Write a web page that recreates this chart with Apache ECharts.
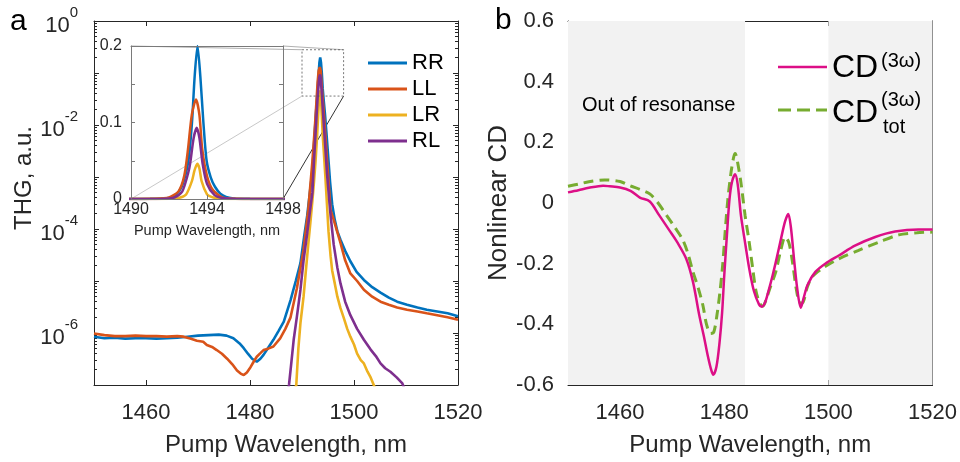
<!DOCTYPE html>
<html><head><meta charset="utf-8">
<script src="https://cdn.jsdelivr.net/npm/echarts@6/dist/echarts.min.js"></script>
<style>html,body{margin:0;padding:0;background:#fff}#c{width:960px;height:462px}</style>
</head><body><div id="c"></div>
<script>
// ---------- Panel a : THG spectra (log scale) ----------
const wlRR = [1450,1452,1454,1456,1458,1460,1462,1464,1466,1468,1470,1472,1474,1475.5,1476.8,1478,1478.8,1479.6,1480.4,1481.3,1482,1482.6,1483.5,1484.5,1485.5,1486.5,1487.8,1488.8,1489.7,1490.4,1491,1491.6,1492,1492.3,1492.67,1493.02,1493.21,1493.35,1493.5,1493.65,1493.81,1493.98,1494.2,1494.42,1494.7,1495,1495.4,1495.8,1496.3,1496.8,1497.4,1498.3,1499.3,1500.5,1501.9,1503.5,1505.1,1506.7,1508.3,1510.2,1512.2,1514,1516,1518,1520];
const thgRR = [8.5e-7,7.9e-7,8.1e-7,7.8e-7,7.9e-7,7.9e-7,7.8e-7,7.9e-7,8.1e-7,8.5e-7,8.9e-7,9.1e-7,9.3e-7,8.9e-7,7.9e-7,6.3e-7,5.1e-7,4.0e-7,3.2e-7,2.8e-7,3.2e-7,3.8e-7,5.2e-7,7.4e-7,1.1e-6,1.65e-6,4.3e-6,1.0e-5,2.2e-5,7e-5,1.8e-4,6e-4,1.3e-3,4e-3,0.016,0.05,0.1,0.16,0.2,0.16,0.1,0.05,0.028,0.016,0.007,0.0028,8e-4,3e-4,1.5e-4,9e-5,6.2e-5,3.8e-5,2.4e-5,1.5e-5,1.05e-5,7.6e-6,6.0e-6,4.8e-6,4.0e-6,3.5e-6,3.1e-6,2.8e-6,2.6e-6,2.4e-6,2.1e-6];

const wlLL = [1450,1452,1454,1456,1458,1460,1462,1464,1466,1467.2,1468.5,1469.8,1471,1471.7,1472.7,1473.6,1474.6,1475.6,1476.6,1477.5,1478.2,1478.8,1479.4,1480.1,1480.7,1481.3,1482,1482.6,1483.5,1484.5,1485.8,1486.8,1487.8,1489,1490.3,1491.2,1492,1492.5,1492.8,1493,1493.2,1493.42,1493.6,1493.75,1494,1494.3,1494.8,1495.5,1496.1,1497.4,1498.3,1499.3,1500.6,1501.9,1503.5,1505.1,1506.7,1508.3,1510.2,1512.2,1514,1516,1518,1520];
const thgLL = [9.8e-7,9.1e-7,8.7e-7,8.7e-7,8.9e-7,8.7e-7,8.7e-7,8.5e-7,8.7e-7,8.5e-7,7.8e-7,7.1e-7,6.8e-7,5.9e-7,5.4e-7,4.7e-7,4.0e-7,3.2e-7,2.5e-7,1.9e-7,1.66e-7,1.55e-7,1.74e-7,2.2e-7,2.8e-7,3.5e-7,4.1e-7,4.7e-7,5.0e-7,5.5e-7,7.9e-7,1.2e-6,2.0e-6,7.1e-6,4.0e-5,2.3e-4,2.0e-3,0.01,0.03,0.065,0.11,0.13,0.11,0.065,0.03,0.012,0.0022,2.3e-4,1.5e-4,5.4e-5,2.5e-5,1.4e-5,1.0e-5,6.8e-6,5.0e-6,4.0e-6,3.5e-6,3.1e-6,2.8e-6,2.6e-6,2.4e-6,2.2e-6,2.0e-6,1.8e-6];

const wlLR = [1488.6,1488.9,1489.3,1489.7,1490.3,1490.7,1491.2,1491.6,1492,1492.3,1492.6,1492.9,1493.2,1493.35,1493.49,1493.6,1493.72,1494,1494.2,1494.5,1494.8,1495.1,1495.5,1495.8,1496.3,1496.8,1497.4,1498,1498.7,1499.3,1500,1500.6,1501.3,1501.9,1502.6,1503.2,1503.8,1504.2];
const thgLR = [8e-8,1e-7,5e-7,1.55e-6,5e-6,1.4e-5,5e-5,1.3e-4,3.5e-4,8e-4,0.002,0.006,0.023,0.038,0.046,0.04,0.023,0.006,0.003,1e-3,3e-4,9e-5,3e-5,1.6e-5,9e-6,5e-6,3e-6,2e-6,1.2e-6,8.5e-7,6e-7,4e-7,3e-7,2.6e-7,1.8e-7,1.4e-7,1e-7,8e-8];

const wlRL = [1487.3,1487.5,1488,1488.4,1489,1489.7,1490.3,1491,1491.6,1492,1492.3,1492.7,1493,1493.11,1493.3,1493.46,1493.6,1493.77,1494,1494.4,1494.8,1495.2,1495.5,1496.1,1496.8,1497.4,1498.3,1499.3,1500.6,1501.9,1503.2,1504.2,1505.1,1506,1507,1508.2,1509.3,1509.8];
const thgRL = [8e-8,1e-7,3e-7,7.4e-7,2e-6,6.8e-6,2.5e-5,8.3e-5,2.5e-4,5e-4,0.002,0.01,0.033,0.046,0.08,0.093,0.08,0.046,0.02,0.005,0.0012,4e-4,1.8e-4,5e-5,1.8e-5,9e-6,4e-6,2.2e-6,1.2e-6,7.4e-7,4.8e-7,3.6e-7,2.6e-7,2.1e-7,1.8e-7,1.4e-7,1.07e-7,8e-8];

const seriesNamesA = ['RR','LL','LR','RL'];
const xTicksA = [1460,1480,1500,1520];
const yLabelsA = [1,1e-2,1e-4,1e-6];
const yTicksA = [1,1e-1,1e-2,1e-3,1e-4,1e-5,1e-6,1e-7];
const minorMultipliers = [2,3,4,5,6,7,8,9];
const insetXTicks = [1490,1494,1498];
const insetYLabels = [0,0.1,0.2];
const insetYTicks = [0,0.05,0.1,0.15,0.2];
const zoomBoxX = [1490,1498];
const zoomBoxY = [0.036,0.28];

// ---------- Panel b : nonlinear CD ----------
const cdWl = [1450,1452,1454,1456.75,1458,1460,1462,1463.8,1465.7,1467.5,1469.5,1471,1472.7,1474,1475.2,1476.1,1476.8,1477.5,1477.9,1478.5,1479.1,1479.6,1480,1480.5,1481,1481.5,1482.1,1482.6,1483.2,1484,1484.8,1485.7,1486.7,1487.2,1487.8,1488.5,1489.3,1490.1,1490.9,1491.7,1492.3,1492.8,1493.4,1494,1494.7,1495.3,1496,1497.5,1499.4,1502,1505.2,1509,1512.8,1517.3,1520];
const cdVal = [0.035,0.042,0.05,0.057,0.055,0.051,0.04,0.018,0.005,-0.04,-0.091,-0.13,-0.184,-0.26,-0.369,-0.44,-0.5,-0.55,-0.566,-0.54,-0.46,-0.36,-0.24,-0.11,0.01,0.07,0.095,0.06,-0.04,-0.13,-0.216,-0.29,-0.335,-0.342,-0.33,-0.29,-0.238,-0.18,-0.118,-0.06,-0.036,-0.08,-0.184,-0.28,-0.345,-0.31,-0.27,-0.227,-0.2,-0.173,-0.14,-0.112,-0.094,-0.087,-0.087];
const cdTotWl = [1450,1452,1454,1457,1460,1461.9,1463.8,1465.7,1467.3,1468.9,1470.5,1472,1473,1474,1475,1475.9,1476.6,1477.4,1478,1478.6,1479.2,1479.7,1480.2,1480.7,1481.3,1481.8,1482.1,1482.5,1483.2,1484,1484.8,1485.5,1486.1,1486.8,1487.4,1488.2,1489,1489.9,1490.8,1491.7,1492.4,1493.1,1493.8,1494.4,1495,1495.9,1496.9,1498.8,1502,1505.8,1509.7,1513.5,1517,1520];
const cdTotVal = [0.055,0.062,0.07,0.076,0.071,0.057,0.045,0.03,0,-0.04,-0.08,-0.12,-0.165,-0.227,-0.28,-0.337,-0.4,-0.43,-0.425,-0.37,-0.29,-0.205,-0.09,0.013,0.1,0.15,0.163,0.14,0.068,-0.04,-0.13,-0.22,-0.29,-0.33,-0.34,-0.31,-0.27,-0.227,-0.16,-0.112,-0.13,-0.194,-0.28,-0.326,-0.33,-0.28,-0.243,-0.216,-0.184,-0.156,-0.129,-0.105,-0.098,-0.096];
const xTicksB = [1460,1480,1500,1520];
const shadedRanges = [[1450,1484],[1500,1520]];

// ---------- styling ----------
const FONT = "'Liberation Sans', Arial, Helvetica, sans-serif";
const TXT = '#262626';
const AX = '#262626';
const INSET_AX = '#7a7a7a';
const COLORS_A = {RR:'#0072BD', LL:'#D95319', LR:'#EDB120', RL:'#7E2F8E'};
const COLOR_CD = '#DC0F86';
const COLOR_TOT = '#77AC30';
const plain = v => String(v);

function zip(xs, ys){ const n = Math.min(xs.length, ys.length); const o=[]; for(let i=0;i<n;i++) o.push([xs[i], ys[i]]); return o; }
const dataA = {RR: zip(wlRR,thgRR), LL: zip(wlLL,thgLL), LR: zip(wlLR,thgLR), RL: zip(wlRL,thgRL)};
const yMinorA = [];
yTicksA.slice(1).forEach(d => minorMultipliers.forEach(m => yMinorA.push(m*d)));

const chart = echarts.init(document.getElementById('c'), null, {renderer:'canvas'});

function mirrorX(grid, min, max, ticks, color, showTicks, z){
  return {type:'value', gridIndex:grid, position:'top', min, max, z:z||0,
    axisLine:{show:true,onZero:false,lineStyle:{color,width:1}},
    axisTick:{show:showTicks,inside:true,length:5,customValues:ticks,lineStyle:{color}},
    axisLabel:{show:false}, splitLine:{show:false}};
}

const xAxis = [
  {type:'value', gridIndex:0, position:'bottom', min:1450, max:1520,
   axisLine:{show:true,onZero:false,lineStyle:{color:AX,width:1}},
   axisTick:{inside:true,length:5,customValues:xTicksA,lineStyle:{color:AX}},
   axisLabel:{customValues:xTicksA,formatter:plain,margin:17,fontSize:22,color:TXT,fontFamily:FONT},
   splitLine:{show:false},
   name:'Pump Wavelength, nm', nameLocation:'middle', nameGap:48,
   nameTextStyle:{fontSize:24,color:TXT,fontFamily:FONT,padding:[0,0,0,20]}},
  mirrorX(0,1450,1520,xTicksA,AX,true),
  {type:'value', gridIndex:1, position:'bottom', min:1490, max:1498, z:5,
   axisLine:{show:true,onZero:false,lineStyle:{color:INSET_AX,width:1}},
   axisTick:{inside:true,length:4,customValues:insetXTicks,lineStyle:{color:INSET_AX}},
   axisLabel:{customValues:insetXTicks,formatter:plain,margin:3,fontSize:16,color:TXT,fontFamily:FONT},
   splitLine:{show:false},
   name:'Pump Wavelength, nm', nameLocation:'middle', nameGap:24,
   nameTextStyle:{fontSize:14.5,color:TXT,fontFamily:FONT}},
  mirrorX(1,1490,1498,insetXTicks,INSET_AX,false,5),
  {type:'value', gridIndex:2, position:'bottom', min:1450, max:1520,
   axisLine:{show:true,onZero:false,lineStyle:{color:AX,width:1}},
   axisTick:{inside:true,length:5,customValues:xTicksB,lineStyle:{color:AX}},
   axisLabel:{customValues:xTicksB,formatter:plain,margin:17,fontSize:22,color:TXT,fontFamily:FONT},
   splitLine:{show:false},
   name:'Pump Wavelength, nm', nameLocation:'middle', nameGap:48,
   nameTextStyle:{fontSize:24,color:TXT,fontFamily:FONT}},
  mirrorX(2,1450,1520,xTicksB,AX,true)
];

const logLabel = v => {
  const e = Math.round(Math.log10(v));
  return '{b|10}{s|' + (e === 0 ? '0' : '-' + Math.abs(e)) + '}';
};
function minorLog(position){
  return {type:'log', logBase:10, gridIndex:0, position, min:1e-7, max:1,
    axisLine:{show:false},
    axisTick:{inside:true,length:3,customValues:yMinorA,lineStyle:{color:AX}},
    axisLabel:{show:false}, splitLine:{show:false}};
}

const yAxis = [
  {type:'log', logBase:10, gridIndex:0, position:'left', min:1e-7, max:1,
   axisLine:{show:true,onZero:false,lineStyle:{color:AX,width:1}},
   axisTick:{inside:true,length:5,customValues:yTicksA,lineStyle:{color:AX}},
   axisLabel:{customValues:yLabelsA,margin:16,formatter:logLabel,color:TXT,fontFamily:FONT,
     rich:{b:{fontSize:22,color:TXT,fontFamily:FONT,padding:[10,0,0,0],verticalAlign:'bottom'},
           s:{fontSize:15,color:TXT,fontFamily:FONT,verticalAlign:'top'}}},
   splitLine:{show:false},
   name:'THG, a.u.', nameLocation:'middle', nameGap:57,
   nameTextStyle:{fontSize:24,color:TXT,fontFamily:FONT,padding:[0,0,0,50]}},
  {type:'log', logBase:10, gridIndex:0, position:'right', min:1e-7, max:1,
   axisLine:{show:true,onZero:false,lineStyle:{color:AX,width:1}},
   axisTick:{inside:true,length:5,customValues:yTicksA,lineStyle:{color:AX}},
   axisLabel:{show:false}, splitLine:{show:false}},
  {type:'value', gridIndex:1, position:'left', min:0, max:0.2, z:5,
   axisLine:{show:true,onZero:false,lineStyle:{color:INSET_AX,width:1}},
   axisTick:{inside:true,length:4,customValues:insetYTicks,lineStyle:{color:INSET_AX}},
   axisLabel:{customValues:insetYLabels,margin:9,fontSize:16,color:TXT,fontFamily:FONT,
     formatter:v=>String(Math.round(v*10)/10)},
   splitLine:{show:false}},
  {type:'value', gridIndex:1, position:'right', min:0, max:0.2, z:5,
   axisLine:{show:true,onZero:false,lineStyle:{color:INSET_AX,width:1}},
   axisTick:{inside:true,length:4,customValues:insetYTicks,lineStyle:{color:INSET_AX}},
   axisLabel:{show:false}, splitLine:{show:false}},
  {type:'value', gridIndex:2, position:'left', min:-0.6, max:0.6, interval:0.2,
   axisLine:{show:true,onZero:false,lineStyle:{color:AX,width:1}},
   axisTick:{inside:true,length:5,lineStyle:{color:AX}},
   axisLabel:{margin:14,fontSize:22,color:TXT,fontFamily:FONT,
     formatter:v=>Math.abs(v)<1e-9?'0':v.toFixed(1)},
   splitLine:{show:false},
   name:'Nonlinear CD', nameLocation:'middle', nameGap:50,
   nameTextStyle:{fontSize:26,color:TXT,fontFamily:FONT}},
  {type:'value', gridIndex:2, position:'right', min:-0.6, max:0.6, interval:0.2,
   axisLine:{show:true,onZero:false,lineStyle:{color:AX,width:1}},
   axisTick:{inside:true,length:5,lineStyle:{color:AX}},
   axisLabel:{show:false}, splitLine:{show:false}},
  minorLog('left'),
  minorLog('right')
];

const series = [];
seriesNamesA.forEach(n => {
  series.push({name:n, type:'line', xAxisIndex:0, yAxisIndex:0, data:dataA[n], symbol:'none',
    clip:true, lineStyle:{color:COLORS_A[n], width:2.6}, itemStyle:{color:COLORS_A[n]}, z:3});
});
seriesNamesA.forEach(n => {
  series.push({name:n, type:'line', xAxisIndex:2, yAxisIndex:2, data:dataA[n], symbol:'none',
    smooth:0.25, clip:true, lineStyle:{color:COLORS_A[n], width:2.5}, itemStyle:{color:COLORS_A[n]}, z:4});
});
series.push({name:'CD(3ω)', type:'line', xAxisIndex:4, yAxisIndex:4, data:zip(cdWl,cdVal), symbol:'none',
  smooth:0.3, lineStyle:{color:COLOR_CD, width:2.5}, itemStyle:{color:COLOR_CD}, z:4,
  markArea:{silent:true, itemStyle:{color:'#f2f2f2'}, z:1,
    data: shadedRanges.map(r => [{xAxis:r[0]},{xAxis:r[1]}])}});
series.push({name:'CDtot(3ω)', type:'line', xAxisIndex:4, yAxisIndex:4, data:zip(cdTotWl,cdTotVal), symbol:'none',
  smooth:0.3, lineStyle:{color:COLOR_TOT, width:3, type:[10,6]}, itemStyle:{color:COLOR_TOT}, z:3});

const option = {
  animation:false,
  backgroundColor:'#ffffff',
  grid:[
    {left:94, top:21, width:364, height:364},
    {left:131, top:46, width:152, height:153, show:true, backgroundColor:'#ffffff', borderWidth:0},
    {left:568, top:21, width:366, height:366}
  ],
  xAxis, yAxis, series,
  legend:{data:seriesNamesA.map(n=>({name:n, icon:'rect'})), orient:'vertical', left:363, top:47,
    itemWidth:39, itemHeight:3, itemGap:4,
    textStyle:{fontSize:22,color:'#000',fontFamily:FONT,lineHeight:22}},
  graphic:[
    {type:'text', style:{text:'a', x:10, y:22, verticalAlign:'middle', fontSize:30, fontFamily:FONT, fill:'#000'}},
    {type:'text', style:{text:'b', x:495, y:21, verticalAlign:'middle', fontSize:30, fontFamily:FONT, fill:'#000'}},
    {type:'text', z:10, style:{text:'Out of resonanse', x:582, y:105, verticalAlign:'middle', fontSize:20, fontFamily:FONT, fill:'#000'}},
    {type:'line', z:10, shape:{x1:778,y1:67,x2:827,y2:67}, style:{stroke:COLOR_CD, lineWidth:2.5}},
    {type:'text', z:10, style:{text:'CD', x:832, y:68, verticalAlign:'middle', fontSize:32, fontFamily:FONT, fill:'#000'}},
    {type:'text', z:10, style:{text:'(3ω)', x:881, y:61, verticalAlign:'middle', fontSize:20, fontFamily:FONT, fill:'#000'}},
    {type:'line', z:10, shape:{x1:778,y1:110,x2:827,y2:110}, style:{stroke:COLOR_TOT, lineWidth:3, lineDash:[13,6]}},
    {type:'text', z:10, style:{text:'CD', x:832, y:113, verticalAlign:'middle', fontSize:32, fontFamily:FONT, fill:'#000'}},
    {type:'text', z:10, style:{text:'(3ω)', x:881, y:100, verticalAlign:'middle', fontSize:20, fontFamily:FONT, fill:'#000'}},
    {type:'text', z:10, style:{text:'tot', x:883, y:127, verticalAlign:'middle', fontSize:20, fontFamily:FONT, fill:'#000'}}
  ]
};
chart.setOption(option);

// zoom connectors (computed through the axes)
const P = (g, pt) => chart.convertToPixel({gridIndex:g}, pt);
const bTL = P(0,[zoomBoxX[0], zoomBoxY[1]]), bBR = P(0,[zoomBoxX[1], zoomBoxY[0]]);
const iTL = P(1,[zoomBoxX[0], 0.2]), iBR = P(1,[zoomBoxX[1], 0]);
const extra = [
  {type:'rect', z:5, shape:{x:bTL[0], y:bTL[1], width:bBR[0]-bTL[0], height:bBR[1]-bTL[1]},
   style:{fill:'none', stroke:'#555', lineWidth:0.8, lineDash:[2,2]}},
  {type:'line', z:2, shape:{x1:iTL[0],y1:iTL[1],x2:bTL[0],y2:bTL[1]}, style:{stroke:'#b0b0b0', lineWidth:1}},
  {type:'line', z:2, shape:{x1:iBR[0],y1:iTL[1],x2:bBR[0],y2:bTL[1]}, style:{stroke:'#b0b0b0', lineWidth:1}},
  {type:'line', z:2, shape:{x1:iTL[0],y1:iBR[1],x2:bTL[0],y2:bBR[1]}, style:{stroke:'#c8c8c8', lineWidth:1}},
  {type:'line', z:2, shape:{x1:iBR[0],y1:iBR[1],x2:bBR[0],y2:bBR[1]}, style:{stroke:'#333', lineWidth:1}}
];
chart.setOption({graphic: option.graphic.concat(extra)});
</script>
</body></html>
